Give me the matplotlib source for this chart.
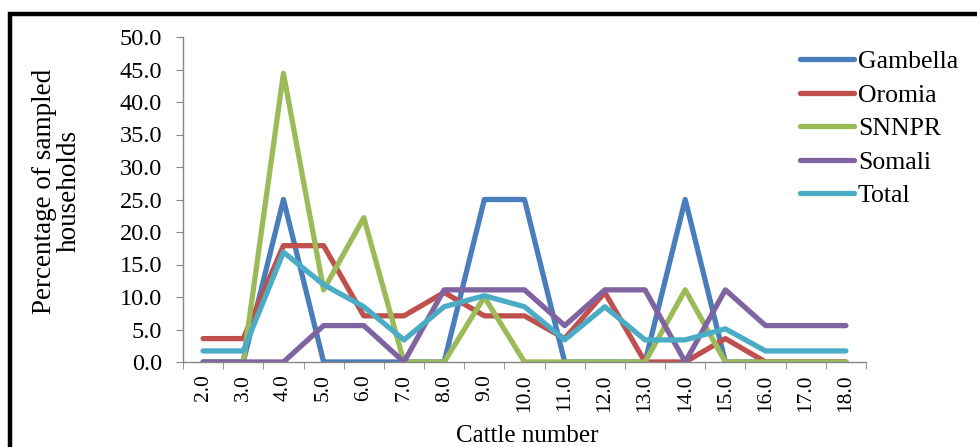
import matplotlib
matplotlib.use('Agg')
import matplotlib.pyplot as plt
from matplotlib.patches import Rectangle
import numpy as np

plt.rcParams['font.family'] = ['Liberation Serif', 'DejaVu Serif']

cattle = ['2.0', '3.0', '4.0', '5.0', '6.0', '7.0', '8.0', '9.0', '10.0',
          '11.0', '12.0', '13.0', '14.0', '15.0', '16.0', '17.0', '18.0']

gambella = [0, 0, 25.0, 0, 0, 0, 0, 25.0, 25.0, 0, 0, 0, 25.0, 0, 0, 0, 0]
oromia = [3.6, 3.6, 17.9, 17.9, 7.1, 7.1, 10.7, 7.1, 7.1, 3.6, 10.7, 0, 0, 3.6, 0, 0, 0]
snnpr = [0, 0, 44.4, 11.1, 22.2, 0, 0, 10.0, 0, 0, 0, 0, 11.1, 0, 0, 0, 0]
somali = [0, 0, 0, 5.6, 5.6, 0, 11.1, 11.1, 11.1, 5.6, 11.1, 11.1, 0, 11.1, 5.6, 5.6, 5.6]
total = [1.7, 1.7, 16.9, 11.9, 8.5, 3.4, 8.5, 10.2, 8.5, 3.4, 8.5, 3.4, 3.4, 5.1, 1.7, 1.7, 1.7]

series = [('Gambella', gambella, '#4A7EBB'),
          ('Oromia', oromia, '#C0504D'),
          ('SNNPR', snnpr, '#9BBB59'),
          ('Somali', somali, '#8064A2'),
          ('Total', total, '#4BACC6')]

fig = plt.figure(figsize=(9.77, 4.47), dpi=100)
ax = fig.add_axes([183/977, 1-362/447, (866-183)/977, (362-37)/447])

x = np.arange(len(cattle))
for name, vals, col in series:
    ax.plot(x, vals, color=col, lw=3.8, label=name, solid_capstyle='round')

ax.set_xlim(-0.5, len(cattle) - 0.5)
ax.set_ylim(0, 50)
ax.set_yticks(np.arange(0, 50.1, 5))
ax.set_yticklabels(['%.1f' % v for v in np.arange(0, 50.1, 5)], fontsize=17.5)
ax.set_xticks(x)
ax.set_xticklabels(cattle, rotation=90, fontsize=15.5)
ax.set_xticks(np.arange(-0.5, len(cattle), 1), minor=True)
ax.tick_params(axis='x', which='major', length=0, pad=9)
ax.tick_params(axis='x', which='minor', length=5, color='#868686')
ax.tick_params(axis='y', length=5, color='#868686', pad=10)

for s in ['top', 'right']:
    ax.spines[s].set_visible(False)
for s in ['left', 'bottom']:
    ax.spines[s].set_color('#868686')
    ax.spines[s].set_linewidth(1)

fig.text(57/977, 1-191/447, 'Percentage of sampled\nhouseholds', rotation=90,
         ha='center', va='center', multialignment='center', fontsize=19.5,
         linespacing=1.0)
fig.text(527/977, 1-436/447, 'Cattle number', ha='center', va='center', fontsize=18)

fig.legend(loc='upper left', bbox_to_anchor=(800/977, 1-50/447), frameon=False,
           fontsize=18.5, handlelength=2.1, handletextpad=0.15, labelspacing=0.41,
           borderaxespad=0, borderpad=0)

fig.patches.append(Rectangle((10/977, -0.1), 1.2, 1.1 - 14/447, transform=fig.transFigure,
                             fill=False, edgecolor='black', lw=3.2, clip_on=False))

fig.savefig('out.png', dpi=100)
